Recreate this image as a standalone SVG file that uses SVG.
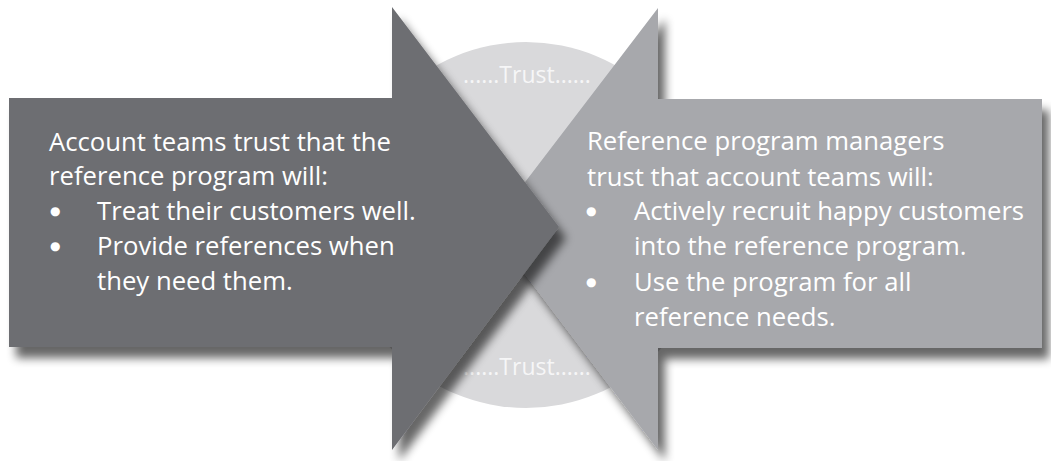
<svg xmlns="http://www.w3.org/2000/svg" width="1051" height="461" viewBox="0 0 1051 461">
  <defs>
    <!-- soft drop shadow cast down and to the right -->
    <filter id="shadow" x="-10%" y="-10%" width="130%" height="130%">
      <feGaussianBlur in="SourceAlpha" stdDeviation="5"/>
      <feOffset dx="7" dy="11" result="off"/>
      <feComponentTransfer>
        <feFuncA type="linear" slope="0.6"/>
      </feComponentTransfer>
      <feMerge>
        <feMergeNode/>
        <feMergeNode in="SourceGraphic"/>
      </feMerge>
    </filter>
  </defs>
  <style>
    .txt { font-family: "Open Sans", "Noto Sans", "Liberation Sans", sans-serif; font-size: 25.7px; fill: #ffffff; }
    .bul { font-family: "DejaVu Sans", sans-serif; font-size: 12px; fill: #ffffff; }
    .trust { font-family: "Open Sans", "Noto Sans", "Liberation Sans", sans-serif; font-size: 23px; fill: #f6f6f7; text-anchor: middle; }
    .dark { fill: #6d6e72; }
    .light { fill: #a7a8ac; }
    .disc { fill: #d9d9db; }
  </style>

  <rect width="1051" height="461" fill="#ffffff"/>

  <!-- shared trust circle behind both arrows -->
  <g id="trust-circle">
    <circle class="disc" cx="526" cy="225" r="183"/>
    <text class="trust" x="527" y="83">......Trust......</text>
    <text class="trust" x="527" y="375">......Trust......</text>
  </g>

  <!-- right arrow: reference program managers, pointing left -->
  <g id="managers-arrow">
    <path class="light" filter="url(#shadow)" d="M1042,99 H658 V8 L490,228 L658,450 V348 H1042 Z"/>
    <text class="txt" x="587" y="150">Reference program managers</text>
    <text class="txt" x="587" y="186">trust that account teams will:</text>
    <text class="bul" x="586" y="215">●</text>
    <text class="txt" x="634" y="220">Actively recruit happy customers</text>
    <text class="txt" x="634" y="255">into the reference program.</text>
    <text class="bul" x="586" y="286">●</text>
    <text class="txt" x="634" y="291">Use the program for all</text>
    <text class="txt" x="634" y="326">reference needs.</text>
  </g>

  <!-- left arrow: account teams, pointing right -->
  <g id="account-arrow">
    <path class="dark" filter="url(#shadow)" d="M9,98 H392 V7 L559,227 L392,450 V347 H9 Z"/>
    <text class="txt" x="49" y="151">Account teams trust that the</text>
    <text class="txt" x="49" y="185">reference program will:</text>
    <text class="bul" x="50" y="215">●</text>
    <text class="txt" x="97" y="220">Treat their customers well.</text>
    <text class="bul" x="50" y="250">●</text>
    <text class="txt" x="97" y="255">Provide references when</text>
    <text class="txt" x="97" y="290">they need them.</text>
  </g>

  <!-- no connectors in this figure -->
  <g id="connectors"/>
</svg>
